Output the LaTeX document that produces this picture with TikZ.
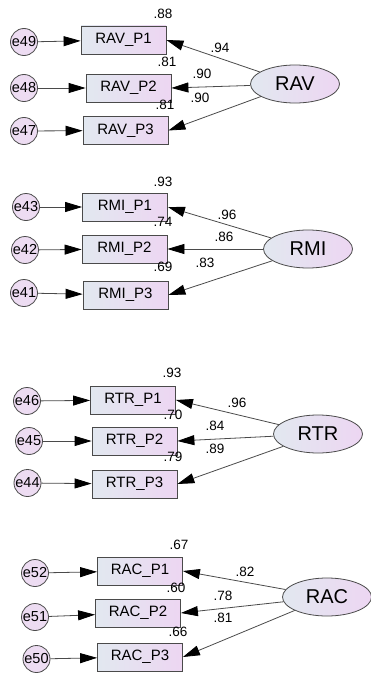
\documentclass[tikz,border=0pt]{standalone}
\usepackage{fontspec}
\setmainfont{Liberation Sans}
\usetikzlibrary{shapes,arrows.meta,positioning,calc}
\definecolor{lineg}{HTML}{4A4A4A}
\definecolor{lbl}{HTML}{E2E8F0}
\definecolor{lpk}{HTML}{EDD6F2}
\definecolor{errc}{HTML}{EDDCF2}

\begin{document}
\begin{tikzpicture}[x=1pt, y=-1pt,
  item/.style={rectangle, draw=lineg, line width=0.8pt, left color=lbl, right color=lpk, minimum width=85pt, minimum height=28pt, inner sep=0pt, font=\fontsize{15}{17}\selectfont},
  err/.style={circle, draw=lineg, line width=0.8pt, fill=errc, minimum size=27pt, inner sep=0pt, font=\fontsize{14.5}{16}\selectfont},
  latent/.style={ellipse, draw=lineg, line width=0.8pt, left color=lbl, right color=lpk, minimum width=89pt, minimum height=38pt, inner sep=0pt, font=\fontsize{20}{22}\selectfont},
  val/.style={inner sep=0pt, font=\fontsize{13.5}{15}\selectfont},
  arr/.style={-{Triangle[length=17pt, width=10pt, color=black]}, lineg, line width=0.8pt}
]
  \useasboundingbox (0,0) rectangle (371,677);

  % RAV
  \node[item] (rav1) at (123.5,40) {RAV\_P1};
  \node[item] (rav2) at (128.5,88) {RAV\_P2};
  \node[item] (rav3) at (125.5,130.5) {RAV\_P3};
  \node[err] (e49) at (24,42) {e49};
  \node[err] (e48) at (24,88) {e48};
  \node[err] (e47) at (24,131) {e47};
  \node[latent] (rav) at (295,84) {RAV};
  \node[val] (rsqrav1) at (163,14) {.88};
  \node[val] (rsqrav2) at (167,62) {.81};
  \node[val] (rsqrav3) at (165,105) {.81};
  \node[val] (ldrav1) at (220,48) {.94};
  \node[val] (ldrav2) at (202,74) {.90};
  \node[val] (ldrav3) at (200,98) {.90};
  \draw[arr] (e49) -- (rav1);
  \draw[arr] (e48) -- (rav2);
  \draw[arr] (e47) -- (rav3);
  \draw[arr] (rav) -- (rav1.east);
  \draw[arr] (rav) -- (rav2.east);
  \draw[arr] (rav) -- (rav3.east);

  % RMI
  \node[item] (rmi1) at (125,207) {RMI\_P1};
  \node[item] (rmi2) at (124.5,249) {RMI\_P2};
  \node[item] (rmi3) at (125.5,295) {RMI\_P3};
  \node[err] (e43) at (26,207) {e43};
  \node[err] (e42) at (25,250) {e42};
  \node[err] (e41) at (24,293) {e41};
  \node[latent] (rmi) at (308,249) {RMI};
  \node[val] (rsqrmi1) at (163,182) {.93};
  \node[val] (rsqrmi2) at (163,222) {.74};
  \node[val] (rsqrmi3) at (163,267) {.69};
  \node[val] (ldrmi1) at (227,215) {.96};
  \node[val] (ldrmi2) at (224,237) {.86};
  \node[val] (ldrmi3) at (205,263) {.83};
  \draw[arr] (e43) -- (rmi1);
  \draw[arr] (e42) -- (rmi2);
  \draw[arr] (e41) -- (rmi3);
  \draw[arr] (rmi) -- (rmi1.east);
  \draw[arr] (rmi) -- (rmi2.east);
  \draw[arr] (rmi) -- (rmi3.east);

  % RTR
  \node[item] (rtr1) at (133,400) {RTR\_P1};
  \node[item] (rtr2) at (134.5,441) {RTR\_P2};
  \node[item] (rtr3) at (134.5,484) {RTR\_P3};
  \node[err] (e46) at (27,401) {e46};
  \node[err] (e45) at (29,441) {e45};
  \node[err] (e44) at (27.5,483) {e44};
  \node[latent] (rtr) at (318,434) {RTR};
  \node[val] (rsqrtr1) at (172,373) {.93};
  \node[val] (rsqrtr2) at (173,415) {.70};
  \node[val] (rsqrtr3) at (173,457) {.79};
  \node[val] (ldrtr1) at (237,403) {.96};
  \node[val] (ldrtr2) at (215,426) {.84};
  \node[val] (ldrtr3) at (215,449) {.89};
  \draw[arr] (e46) -- (rtr1);
  \draw[arr] (e45) -- (rtr2);
  \draw[arr] (e44) -- (rtr3);
  \draw[arr] (rtr) -- (rtr1.east);
  \draw[arr] (rtr) -- (rtr2.east);
  \draw[arr] (rtr) -- (rtr3.east);

  % RAC
  \node[item] (rac1) at (140,571) {RAC\_P1};
  \node[item] (rac2) at (138,613) {RAC\_P2};
  \node[item] (rac3) at (140,657) {RAC\_P3};
  \node[err] (e52) at (35,573) {e52};
  \node[err] (e51) at (35,617) {e51};
  \node[err] (e50) at (36.5,659) {e50};
  \node[latent] (rac) at (327,597) {RAC};
  \node[val] (rsqrac1) at (179,545) {.67};
  \node[val] (rsqrac2) at (176,588) {.60};
  \node[val] (rsqrac3) at (178,632) {.66};
  \node[val] (ldrac1) at (245,572) {.82};
  \node[val] (ldrac2) at (223,596) {.78};
  \node[val] (ldrac3) at (223,618) {.81};
  \draw[arr] (e52) -- (rac1);
  \draw[arr] (e51) -- (rac2);
  \draw[arr] (e50) -- (rac3);
  \draw[arr] (rac) -- (rac1.east);
  \draw[arr] (rac) -- (rac2.east);
  \draw[arr] (rac) -- (rac3.east);
\end{tikzpicture}
\end{document}
